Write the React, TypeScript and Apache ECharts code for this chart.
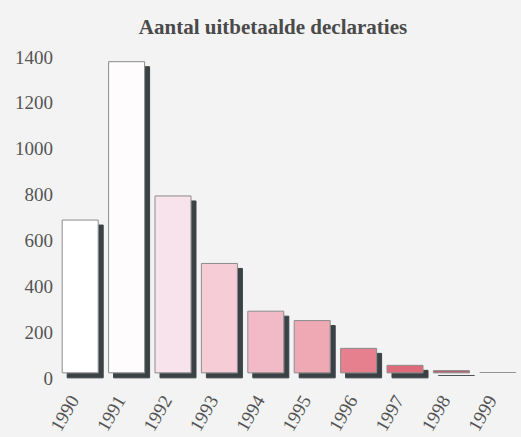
import React, { useEffect, useRef } from "react";
import * as echarts from "echarts";

const categories = ["1990", "1991", "1992", "1993", "1994", "1995", "1996", "1997", "1998", "1999"];
const values = [670, 1360, 775, 481, 273, 232, 111, 37, 14, 5];
const barColors = ["#ffffff", "#fefcfd", "#f8e2eb", "#f6cdd7", "#f2bac6", "#efa9b5", "#e6808e", "#df6a7a", "#b45c6c", "#4a5052"];
const yTicks = [0, 200, 400, 600, 800, 1000, 1200, 1400];

export default function App() {
  const ref = useRef<HTMLDivElement>(null);
  useEffect(() => {
    if (!ref.current) return;
    const chart = echarts.init(ref.current, null, { renderer: "svg" });
    chart.setOption({
      animation: false,
      backgroundColor: "#f3f3f3",
      title: {
        text: "Aantal uitbetaalde declaraties",
        left: 268,
        top: 11,
        textAlign: "center",
        textStyle: { fontFamily: "Liberation Serif", fontWeight: "bold", fontSize: 21, color: "#4a4a4a" },
      },
      grid: { left: 57, right: -2, top: 52, bottom: 57, containLabel: false },
      xAxis: {
        type: "category",
        data: categories,
        axisLine: { show: false },
        axisTick: { show: false },
        axisLabel: {
          rotate: 60,
          margin: 13,
          fontFamily: "Liberation Serif",
          fontSize: 19,
          color: "#555",
          interval: 0,
          padding: [0, 12, 0, 0],
        },
      },
      yAxis: {
        type: "value",
        min: yTicks[0],
        max: yTicks[yTicks.length - 1],
        interval: 200,
        splitLine: { show: false },
        axisLine: { show: false },
        axisTick: { show: false },
        axisLabel: {
          margin: 4,
          fontFamily: "Liberation Serif",
          fontSize: 19,
          color: "#555",
          verticalAlign: "top",
          lineHeight: 10,
          formatter: (v: number) => String(v),
        },
      },
      series: [
        {
          type: "bar",
          barWidth: 37,
          barMinHeight: 1,
          data: values.map((v, i) => ({
            value: v,
            itemStyle: { color: barColors[i] },
          })),
          itemStyle: {
            borderColor: "#8c8c8c",
            borderWidth: 1,
            shadowColor: "#3a4345",
            shadowBlur: 0,
            shadowOffsetX: 5,
            shadowOffsetY: 5,
          },
        },
      ],
    });
    return () => chart.dispose();
  }, []);
  return (
    <div
      ref={ref}
      style={{ position: "fixed", left: 0, top: 0, width: 521, height: 437 }}
    />
  );
}
